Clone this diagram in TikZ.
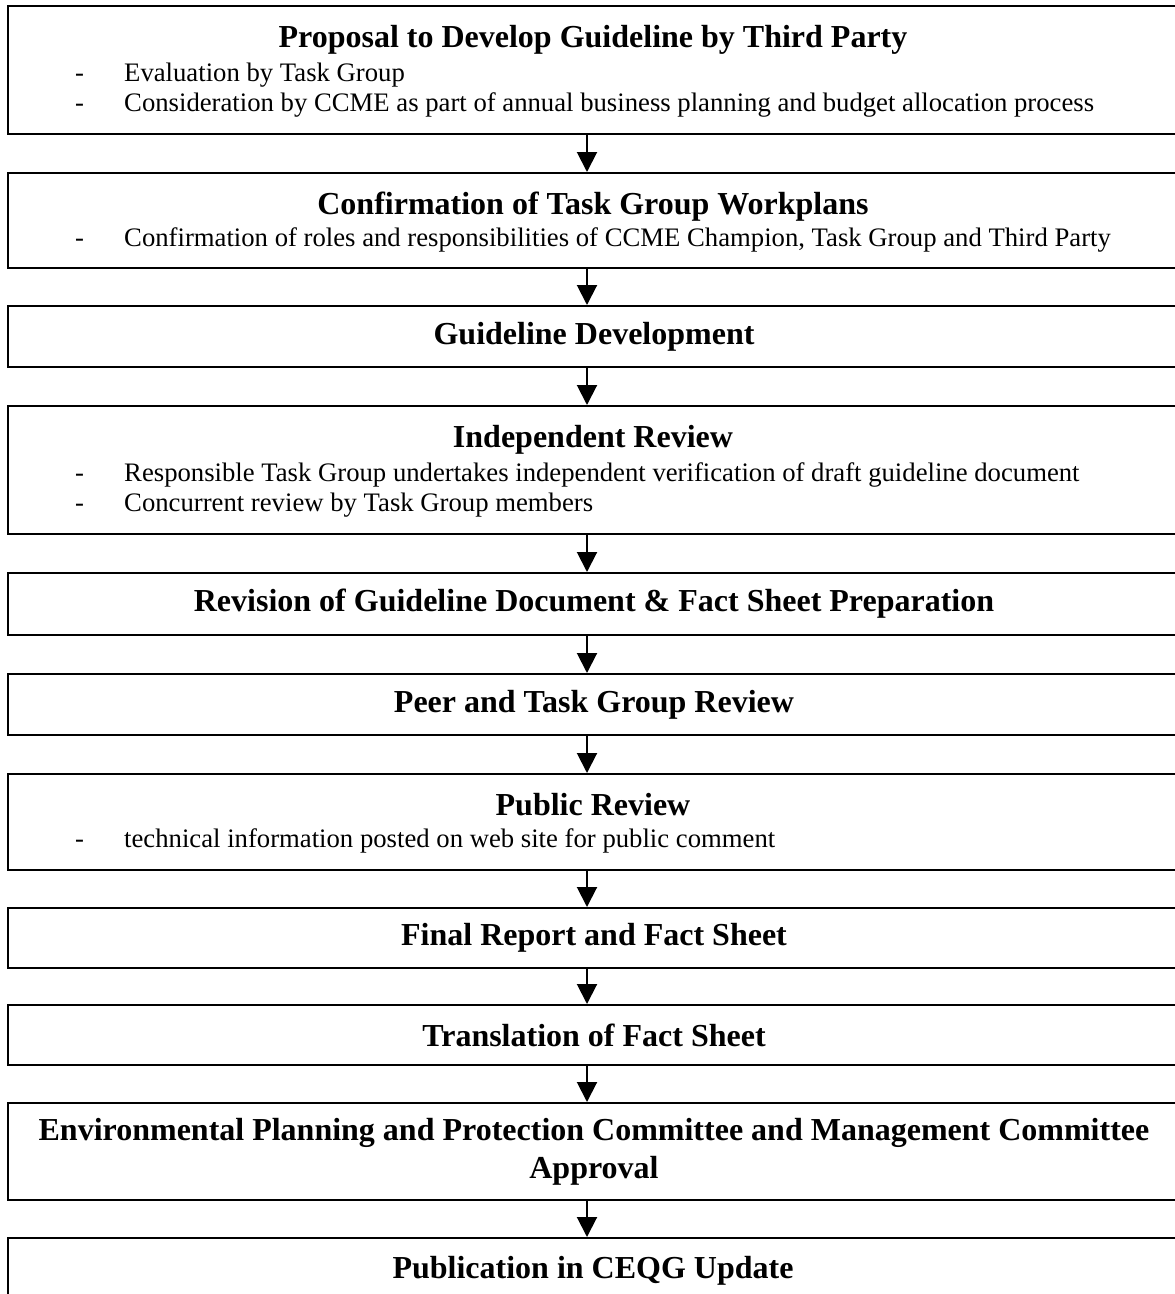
\documentclass[tikz,border=0pt]{standalone}
\usepackage{fontspec}
\setmainfont{Liberation Serif}
\usetikzlibrary{arrows.meta,calc}
\begin{document}
\begin{tikzpicture}[x=1pt,y=-1pt,
  box/.style={draw, line width=2pt, minimum width=1172pt, inner sep=0pt, anchor=north west,
              font=\bfseries\fontsize{32}{38}\selectfont, align=center},
  ttl/.style={anchor=base, inner sep=0pt, font=\bfseries\fontsize{32}{38}\selectfont},
  hyph/.style={anchor=base west, inner sep=0pt, font=\fontsize{26.7}{30}\selectfont},
  bodytxt/.style={anchor=base west, inner sep=0pt, font=\fontsize{26.7}{30}\selectfont},
  arr/.style={line width=2pt, -{Triangle[width=20pt,length=20pt]}}]
\useasboundingbox (0,0) rectangle (1175,1294);
\coordinate (ax) at (587,0);
% boxes
\node[box, minimum height=128pt] (b1) at (7,5) {};
\node[box, minimum height=95pt]  (b2) at (7,172) {};
\node[box, minimum height=61pt]  (b3) at (7,305) {Guideline Development};
\node[box, minimum height=128pt] (b4) at (7,405) {};
\node[box, minimum height=62pt]  (b5) at (7,572) {Revision of Guideline Document \& Fact Sheet Preparation};
\node[box, minimum height=61pt]  (b6) at (7,673) {Peer and Task Group Review};
\node[box, minimum height=96pt]  (b7) at (7,773) {};
\node[box, minimum height=60pt]  (b8) at (7,907) {Final Report and Fact Sheet};
\node[box, minimum height=60pt]  (b9) at (7,1004) {Translation of Fact Sheet};
\node[box, minimum height=97pt]  (b10) at (7,1102) {Environmental Planning and Protection Committee and Management Committee\\Approval};
\node[box, minimum height=90pt]  (b11) at (7,1237) {};
% box 1 text
\node[ttl] (t1) at (593,47) {Proposal to Develop Guideline by Third Party};
\node[hyph] (d1a) at (75,81) {-};
\node[bodytxt] (e1a) at (124,81) {Evaluation by Task Group};
\node[hyph] (d1b) at (75,111) {-};
\node[bodytxt] (e1b) at (124,111) {Consideration by CCME as part of annual business planning and budget allocation process};
% box 2 text
\node[ttl] (t2) at (593,214) {Confirmation of Task Group Workplans};
\node[hyph] (d2a) at (75,246) {-};
\node[bodytxt] (e2a) at (124,246) {Confirmation of roles and responsibilities of CCME Champion, Task Group and Third Party};
% box 4 text
\node[ttl] (t4) at (593,447) {Independent Review};
\node[hyph] (d4a) at (75,481) {-};
\node[bodytxt] (e4a) at (124,481) {Responsible Task Group undertakes independent verification of draft guideline document};
\node[hyph] (d4b) at (75,511) {-};
\node[bodytxt] (e4b) at (124,511) {Concurrent review by Task Group members};
% box 7 text
\node[ttl] (t7) at (593,815) {Public Review};
\node[hyph] (d7a) at (75,847) {-};
\node[bodytxt] (e7a) at (124,847) {technical information posted on web site for public comment};
% box 11 text
\node[ttl] (t11) at (593,1278) {Publication in CEQG Update};
% arrows
\foreach \a/\b in {b1/b2,b2/b3,b3/b4,b4/b5,b5/b6,b6/b7,b7/b8,b8/b9,b9/b10,b10/b11}
  \draw[arr] (\a.south -| ax) -- (\b.north -| ax);
\end{tikzpicture}
\end{document}
